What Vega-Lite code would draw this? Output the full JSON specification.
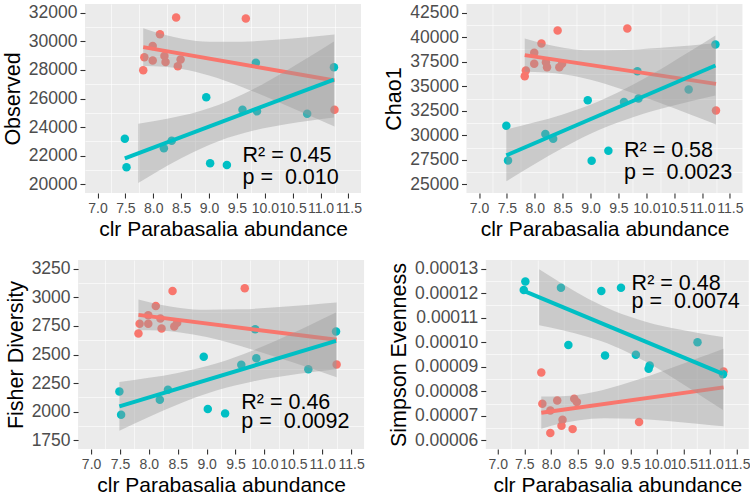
{
  "$schema": "https://vega.github.io/schema/vega-lite/v6.json",
  "background": "white",
  "padding": {"left": 2, "top": 3, "right": 0, "bottom": 0},
  "datasets": {
    "p1": [
      {"x": 7.82, "y": 27979, "g": "r"}, {"x": 7.84, "y": 28889, "g": "r"}, {"x": 7.99, "y": 29663, "g": "r"}, {"x": 7.99, "y": 28657, "g": "r"},
      {"x": 8.12, "y": 30482, "g": "r"}, {"x": 8.20, "y": 28961, "g": "r"}, {"x": 8.22, "y": 28541, "g": "r"}, {"x": 8.41, "y": 31651, "g": "r"},
      {"x": 8.44, "y": 28260, "g": "r"}, {"x": 8.49, "y": 28728, "g": "r"}, {"x": 9.66, "y": 31581, "g": "r"}, {"x": 11.25, "y": 25219, "g": "r"},
      {"x": 7.49, "y": 23184, "g": "t"}, {"x": 7.52, "y": 21196, "g": "t"}, {"x": 8.19, "y": 22529, "g": "t"}, {"x": 8.33, "y": 23044, "g": "t"},
      {"x": 8.95, "y": 26085, "g": "t"}, {"x": 9.02, "y": 21476, "g": "t"}, {"x": 9.32, "y": 21359, "g": "t"}, {"x": 9.60, "y": 25219, "g": "t"},
      {"x": 9.84, "y": 28494, "g": "t"}, {"x": 9.86, "y": 25102, "g": "t"}, {"x": 10.76, "y": 24937, "g": "t"}, {"x": 11.24, "y": 28190, "g": "t"}
    ],
    "b1": [
      {"x": 7.82, "lo": 28268, "hi": 30912, "g": "r"}, {"x": 8.2, "lo": 28214, "hi": 30448, "g": "r"}, {"x": 8.54, "lo": 28047, "hi": 30151, "g": "r"},
      {"x": 9.0, "lo": 27612, "hi": 29958, "g": "r"}, {"x": 9.6, "lo": 26788, "hi": 29964, "g": "r"}, {"x": 10.2, "lo": 25830, "hi": 30104, "g": "r"},
      {"x": 10.8, "lo": 24817, "hi": 30299, "g": "r"}, {"x": 11.25, "lo": 24040, "hi": 30462, "g": "r"},
      {"x": 7.73, "lo": 20104, "hi": 24244, "g": "t"}, {"x": 8.0, "lo": 20731, "hi": 24409, "g": "t"}, {"x": 8.5, "lo": 21821, "hi": 24787, "g": "t"},
      {"x": 9.18, "lo": 23030, "hi": 25572, "g": "t"}, {"x": 9.8, "lo": 23758, "hi": 26664, "g": "t"}, {"x": 10.4, "lo": 24214, "hi": 27968, "g": "t"},
      {"x": 10.8, "lo": 24448, "hi": 28908, "g": "t"}, {"x": 11.24, "lo": 24671, "hi": 29977, "g": "t"}
    ],
    "l1": [
      {"x": 7.82, "y": 29590, "g": "r"}, {"x": 11.25, "y": 27251, "g": "r"},
      {"x": 7.49, "y": 21822, "g": "t"}, {"x": 11.24, "y": 27324, "g": "t"}
    ],
    "t1": [
      {"x": 9.6, "y": 21958, "label": "R² = 0.45"}, {"x": 9.6, "y": 20438, "label": "p = \u00a00.010"}
    ],
    "p2": [
      {"x": 7.82, "y": 36023, "g": "r"}, {"x": 7.84, "y": 36602, "g": "r"}, {"x": 7.99, "y": 38406, "g": "r"}, {"x": 7.99, "y": 37282, "g": "r"},
      {"x": 8.12, "y": 39359, "g": "r"}, {"x": 8.20, "y": 37453, "g": "r"}, {"x": 8.22, "y": 36943, "g": "r"}, {"x": 8.41, "y": 40680, "g": "r"},
      {"x": 8.44, "y": 36943, "g": "r"}, {"x": 8.49, "y": 37282, "g": "r"}, {"x": 9.66, "y": 40890, "g": "r"}, {"x": 11.25, "y": 32517, "g": "r"},
      {"x": 7.49, "y": 30986, "g": "t"}, {"x": 7.52, "y": 27446, "g": "t"}, {"x": 8.19, "y": 30135, "g": "t"}, {"x": 8.33, "y": 29658, "g": "t"},
      {"x": 8.95, "y": 33572, "g": "t"}, {"x": 9.02, "y": 27412, "g": "t"}, {"x": 9.32, "y": 28433, "g": "t"}, {"x": 9.60, "y": 33402, "g": "t"},
      {"x": 9.84, "y": 36534, "g": "t"}, {"x": 9.86, "y": 33743, "g": "t"}, {"x": 10.76, "y": 34662, "g": "t"}, {"x": 11.24, "y": 39257, "g": "t"}
    ],
    "b2": [
      {"x": 7.82, "lo": 36467, "hi": 39867, "g": "r"}, {"x": 8.2, "lo": 36406, "hi": 39280, "g": "r"}, {"x": 8.54, "lo": 36200, "hi": 38906, "g": "r"},
      {"x": 9.0, "lo": 35652, "hi": 38668, "g": "r"}, {"x": 9.6, "lo": 34606, "hi": 38690, "g": "r"}, {"x": 10.2, "lo": 33388, "hi": 38884, "g": "r"},
      {"x": 10.8, "lo": 32100, "hi": 39148, "g": "r"}, {"x": 11.25, "lo": 31111, "hi": 39369, "g": "r"},
      {"x": 7.49, "lo": 25318, "hi": 30594, "g": "t"}, {"x": 8.0, "lo": 27082, "hi": 31320, "g": "t"}, {"x": 8.5, "lo": 28713, "hi": 32131, "g": "t"},
      {"x": 9.18, "lo": 30617, "hi": 33547, "g": "t"}, {"x": 9.8, "lo": 31922, "hi": 35270, "g": "t"}, {"x": 10.4, "lo": 32899, "hi": 37223, "g": "t"},
      {"x": 10.8, "lo": 33469, "hi": 38607, "g": "t"}, {"x": 11.24, "lo": 34055, "hi": 40169, "g": "t"}
    ],
    "l2": [
      {"x": 7.82, "y": 38167, "g": "r"}, {"x": 11.25, "y": 35240, "g": "r"},
      {"x": 7.49, "y": 27956, "g": "t"}, {"x": 11.24, "y": 37112, "g": "t"}
    ],
    "t2": [
      {"x": 9.6, "y": 28434, "label": "R² = 0.58"}, {"x": 9.6, "y": 26147, "label": "p = \u00a00.0023"}
    ],
    "p3": [
      {"x": 7.82, "y": 2683, "g": "r"}, {"x": 7.84, "y": 2769, "g": "r"}, {"x": 7.99, "y": 2843, "g": "r"}, {"x": 7.99, "y": 2769, "g": "r"},
      {"x": 8.12, "y": 2924, "g": "r"}, {"x": 8.20, "y": 2814, "g": "r"}, {"x": 8.22, "y": 2727, "g": "r"}, {"x": 8.41, "y": 3055, "g": "r"},
      {"x": 8.44, "y": 2745, "g": "r"}, {"x": 8.49, "y": 2778, "g": "r"}, {"x": 9.66, "y": 3078, "g": "r"}, {"x": 11.25, "y": 2413, "g": "r"},
      {"x": 7.49, "y": 2178, "g": "t"}, {"x": 7.52, "y": 1975, "g": "t"}, {"x": 8.19, "y": 2105, "g": "t"}, {"x": 8.33, "y": 2192, "g": "t"},
      {"x": 8.95, "y": 2480, "g": "t"}, {"x": 9.02, "y": 2024, "g": "t"}, {"x": 9.32, "y": 1986, "g": "t"}, {"x": 9.60, "y": 2410, "g": "t"},
      {"x": 9.84, "y": 2721, "g": "t"}, {"x": 9.86, "y": 2468, "g": "t"}, {"x": 10.76, "y": 2372, "g": "t"}, {"x": 11.24, "y": 2701, "g": "t"}
    ],
    "b3": [
      {"x": 7.82, "lo": 2712, "hi": 2980, "g": "r"}, {"x": 8.2, "lo": 2709, "hi": 2935, "g": "r"}, {"x": 8.54, "lo": 2693, "hi": 2907, "g": "r"},
      {"x": 9.0, "lo": 2652, "hi": 2890, "g": "r"}, {"x": 9.6, "lo": 2572, "hi": 2894, "g": "r"}, {"x": 10.2, "lo": 2478, "hi": 2912, "g": "r"},
      {"x": 10.8, "lo": 2379, "hi": 2935, "g": "r"}, {"x": 11.25, "lo": 2302, "hi": 2954, "g": "r"},
      {"x": 7.49, "lo": 1834, "hi": 2260, "g": "t"}, {"x": 8.0, "lo": 1954, "hi": 2296, "g": "t"}, {"x": 8.5, "lo": 2063, "hi": 2339, "g": "t"},
      {"x": 9.18, "lo": 2187, "hi": 2423, "g": "t"}, {"x": 9.8, "lo": 2265, "hi": 2535, "g": "t"}, {"x": 10.4, "lo": 2316, "hi": 2666, "g": "t"},
      {"x": 10.8, "lo": 2344, "hi": 2760, "g": "t"}, {"x": 11.24, "lo": 2372, "hi": 2866, "g": "t"}
    ],
    "l3": [
      {"x": 7.82, "y": 2846, "g": "r"}, {"x": 11.25, "y": 2628, "g": "r"},
      {"x": 7.49, "y": 2047, "g": "t"}, {"x": 11.24, "y": 2619, "g": "t"}
    ],
    "t3": [
      {"x": 9.6, "y": 2076, "label": "R² = 0.46"}, {"x": 9.6, "y": 1913, "label": "p = \u00a00.0092"}
    ],
    "p4": [
      {"x": 7.82, "y": 0.0000877, "g": "r"}, {"x": 7.84, "y": 0.0000749, "g": "r"}, {"x": 7.99, "y": 0.0000722, "g": "r"}, {"x": 7.99, "y": 0.0000630, "g": "r"},
      {"x": 8.12, "y": 0.0000763, "g": "r"}, {"x": 8.20, "y": 0.0000660, "g": "r"}, {"x": 8.22, "y": 0.0000684, "g": "r"}, {"x": 8.41, "y": 0.0000646, "g": "r"},
      {"x": 8.44, "y": 0.0000770, "g": "r"}, {"x": 8.49, "y": 0.0000756, "g": "r"}, {"x": 9.66, "y": 0.0000675, "g": "r"}, {"x": 11.25, "y": 0.0000881, "g": "r"},
      {"x": 7.49, "y": 0.0001213, "g": "t"}, {"x": 7.52, "y": 0.0001247, "g": "t"}, {"x": 8.19, "y": 0.0001222, "g": "t"}, {"x": 8.33, "y": 0.0000989, "g": "t"},
      {"x": 8.95, "y": 0.0001209, "g": "t"}, {"x": 9.02, "y": 0.0000946, "g": "t"}, {"x": 9.32, "y": 0.0001222, "g": "t"}, {"x": 9.60, "y": 0.0000949, "g": "t"},
      {"x": 9.84, "y": 0.0000892, "g": "t"}, {"x": 9.86, "y": 0.0000905, "g": "t"}, {"x": 10.76, "y": 0.0001000, "g": "t"}, {"x": 11.24, "y": 0.0000870, "g": "t"}
    ],
    "b4": [
      {"x": 7.82, "lo": 0.00006476, "hi": 0.00007784, "g": "r"}, {"x": 8.2, "lo": 0.00006696, "hi": 0.00007796, "g": "r"}, {"x": 8.53, "lo": 0.00006825, "hi": 0.00007865, "g": "r"},
      {"x": 9.0, "lo": 0.00006904, "hi": 0.00008066, "g": "r"}, {"x": 9.6, "lo": 0.00006878, "hi": 0.0000845, "g": "r"}, {"x": 10.2, "lo": 0.00006786, "hi": 0.000089, "g": "r"},
      {"x": 10.8, "lo": 0.00006667, "hi": 0.00009377, "g": "r"}, {"x": 11.25, "lo": 0.00006572, "hi": 0.00009734, "g": "r"},
      {"x": 7.78, "lo": 0.00010687, "hi": 0.00012971, "g": "t"}, {"x": 8.2, "lo": 0.00010501, "hi": 0.00012399, "g": "t"}, {"x": 8.7, "lo": 0.00010211, "hi": 0.00011769, "g": "t"},
      {"x": 9.18, "lo": 0.0000985, "hi": 0.00011284, "g": "t"}, {"x": 9.8, "lo": 0.0000919, "hi": 0.00010828, "g": "t"}, {"x": 10.4, "lo": 0.0000841, "hi": 0.00010526, "g": "t"},
      {"x": 10.8, "lo": 0.0000785, "hi": 0.00010366, "g": "t"}, {"x": 11.24, "lo": 0.00007244, "hi": 0.00010214, "g": "t"}
    ],
    "l4": [
      {"x": 7.82, "y": 0.0000713, "g": "r"}, {"x": 11.25, "y": 0.0000816, "g": "r"},
      {"x": 7.49, "y": 0.0001209, "g": "t"}, {"x": 11.24, "y": 0.0000871, "g": "t"}
    ],
    "t4": [
      {"x": 9.52, "y": 0.0001239, "label": "R² = 0.48"}, {"x": 9.52, "y": 0.0001162, "label": "p = \u00a00.0074"}
    ]
  },
  "vconcat": [
    {
      "spacing": 21.5,
      "hconcat": [
        {
          "width": 276, "height": 189,
          "resolve": {"axis": {"x": "independent", "y": "independent"}},
          "layer": [
            {"data": {"name": "p1"}, "mark": {"type": "circle", "opacity": 0},
             "encoding": {
               "x": {"field": "x", "type": "quantitative", "scale": {"domain": [6.775, 11.725], "nice": false, "zero": false},
                     "axis": {"orient": "bottom", "values": [7.25, 7.75, 8.25, 8.75, 9.25, 9.75, 10.25, 10.75, 11.25], "grid": true, "gridWidth": 0.6, "labels": false, "ticks": false, "domain": false, "title": null}},
               "y": {"field": "y", "type": "quantitative", "scale": {"domain": [19400, 32600], "nice": false, "zero": false},
                     "axis": {"orient": "left", "values": [21000, 23000, 25000, 27000, 29000, 31000], "grid": true, "gridWidth": 0.6, "labels": false, "ticks": false, "domain": false, "title": null}}
             }},
            {"data": {"name": "p1"}, "mark": {"type": "circle", "size": 72, "opacity": 1},
             "encoding": {
               "x": {"field": "x", "type": "quantitative", "title": "clr Parabasalia abundance",
                     "axis": {"orient": "bottom", "values": [7, 7.5, 8, 8.5, 9, 9.5, 10, 10.5, 11, 11.5], "format": ".1f", "labelOverlap": false, "labelFlush": false, "labelBound": false}},
               "y": {"field": "y", "type": "quantitative", "title": "Observed",
                     "axis": {"orient": "left", "values": [20000, 22000, 24000, 26000, 28000, 30000, 32000], "format": "d", "labelOverlap": false}},
               "color": {"field": "g", "type": "nominal", "scale": {"domain": ["r", "t"], "range": ["#F8766D", "#00BFC4"]}, "legend": null}
             }},
            {"data": {"name": "b1"}, "transform": [{"filter": "datum.g === 'r'"}], "mark": {"type": "area", "color": "#999999", "opacity": 0.4, "interpolate": "monotone"},
             "encoding": {"x": {"field": "x", "type": "quantitative", "axis": null}, "y": {"field": "lo", "type": "quantitative", "axis": null}, "y2": {"field": "hi"}}},
            {"data": {"name": "l1"}, "transform": [{"filter": "datum.g === 'r'"}], "mark": {"type": "line", "color": "#F8766D", "strokeWidth": 4},
             "encoding": {"x": {"field": "x", "type": "quantitative", "axis": null}, "y": {"field": "y", "type": "quantitative", "axis": null}}},
            {"data": {"name": "b1"}, "transform": [{"filter": "datum.g === 't'"}], "mark": {"type": "area", "color": "#999999", "opacity": 0.4, "interpolate": "monotone"},
             "encoding": {"x": {"field": "x", "type": "quantitative", "axis": null}, "y": {"field": "lo", "type": "quantitative", "axis": null}, "y2": {"field": "hi"}}},
            {"data": {"name": "l1"}, "transform": [{"filter": "datum.g === 't'"}], "mark": {"type": "line", "color": "#00BFC4", "strokeWidth": 4},
             "encoding": {"x": {"field": "x", "type": "quantitative", "axis": null}, "y": {"field": "y", "type": "quantitative", "axis": null}}},
            {"data": {"name": "t1"}, "mark": {"type": "text", "align": "left", "baseline": "middle", "fontSize": 21.5, "font": "Liberation Sans", "color": "#000000"},
             "encoding": {"x": {"field": "x", "type": "quantitative", "axis": null}, "y": {"field": "y", "type": "quantitative", "axis": null}, "text": {"field": "label"}}}
          ]
        },
        {
          "width": 276, "height": 189,
          "resolve": {"axis": {"x": "independent", "y": "independent"}},
          "layer": [
            {"data": {"name": "p2"}, "mark": {"type": "circle", "opacity": 0},
             "encoding": {
               "x": {"field": "x", "type": "quantitative", "scale": {"domain": [6.775, 11.725], "nice": false, "zero": false},
                     "axis": {"orient": "bottom", "values": [7.25, 7.75, 8.25, 8.75, 9.25, 9.75, 10.25, 10.75, 11.25], "grid": true, "gridWidth": 0.6, "labels": false, "ticks": false, "domain": false, "title": null}},
               "y": {"field": "y", "type": "quantitative", "scale": {"domain": [24125, 43375], "nice": false, "zero": false},
                     "axis": {"orient": "left", "values": [26250, 28750, 31250, 33750, 36250, 38750, 41250], "grid": true, "gridWidth": 0.6, "labels": false, "ticks": false, "domain": false, "title": null}}
             }},
            {"data": {"name": "p2"}, "mark": {"type": "circle", "size": 72, "opacity": 1},
             "encoding": {
               "x": {"field": "x", "type": "quantitative", "title": "clr Parabasalia abundance",
                     "axis": {"orient": "bottom", "values": [7, 7.5, 8, 8.5, 9, 9.5, 10, 10.5, 11, 11.5], "format": ".1f", "labelOverlap": false, "labelFlush": false, "labelBound": false}},
               "y": {"field": "y", "type": "quantitative", "title": "Chao1",
                     "axis": {"orient": "left", "values": [25000, 27500, 30000, 32500, 35000, 37500, 40000, 42500], "format": "d", "labelOverlap": false}},
               "color": {"field": "g", "type": "nominal", "scale": {"domain": ["r", "t"], "range": ["#F8766D", "#00BFC4"]}, "legend": null}
             }},
            {"data": {"name": "b2"}, "transform": [{"filter": "datum.g === 'r'"}], "mark": {"type": "area", "color": "#999999", "opacity": 0.4, "interpolate": "monotone"},
             "encoding": {"x": {"field": "x", "type": "quantitative", "axis": null}, "y": {"field": "lo", "type": "quantitative", "axis": null}, "y2": {"field": "hi"}}},
            {"data": {"name": "l2"}, "transform": [{"filter": "datum.g === 'r'"}], "mark": {"type": "line", "color": "#F8766D", "strokeWidth": 4},
             "encoding": {"x": {"field": "x", "type": "quantitative", "axis": null}, "y": {"field": "y", "type": "quantitative", "axis": null}}},
            {"data": {"name": "b2"}, "transform": [{"filter": "datum.g === 't'"}], "mark": {"type": "area", "color": "#999999", "opacity": 0.4, "interpolate": "monotone"},
             "encoding": {"x": {"field": "x", "type": "quantitative", "axis": null}, "y": {"field": "lo", "type": "quantitative", "axis": null}, "y2": {"field": "hi"}}},
            {"data": {"name": "l2"}, "transform": [{"filter": "datum.g === 't'"}], "mark": {"type": "line", "color": "#00BFC4", "strokeWidth": 4},
             "encoding": {"x": {"field": "x", "type": "quantitative", "axis": null}, "y": {"field": "y", "type": "quantitative", "axis": null}}},
            {"data": {"name": "t2"}, "mark": {"type": "text", "align": "left", "baseline": "middle", "fontSize": 21.5, "font": "Liberation Sans", "color": "#000000"},
             "encoding": {"x": {"field": "x", "type": "quantitative", "axis": null}, "y": {"field": "y", "type": "quantitative", "axis": null}, "text": {"field": "label"}}}
          ]
        }
      ]
    },
    {
      "spacing": 22.7,
      "hconcat": [
        {
          "width": 286, "height": 189,
          "resolve": {"axis": {"x": "independent", "y": "independent"}},
          "layer": [
            {"data": {"name": "p3"}, "mark": {"type": "circle", "opacity": 0},
             "encoding": {
               "x": {"field": "x", "type": "quantitative", "scale": {"domain": [6.775, 11.725], "nice": false, "zero": false},
                     "axis": {"orient": "bottom", "values": [7.25, 7.75, 8.25, 8.75, 9.25, 9.75, 10.25, 10.75, 11.25], "grid": true, "gridWidth": 0.6, "labels": false, "ticks": false, "domain": false, "title": null}},
               "y": {"field": "y", "type": "quantitative", "scale": {"domain": [1675, 3325], "nice": false, "zero": false},
                     "axis": {"orient": "left", "values": [1875, 2125, 2375, 2625, 2875, 3125], "grid": true, "gridWidth": 0.6, "labels": false, "ticks": false, "domain": false, "title": null}}
             }},
            {"data": {"name": "p3"}, "mark": {"type": "circle", "size": 72, "opacity": 1},
             "encoding": {
               "x": {"field": "x", "type": "quantitative", "title": "clr Parabasalia abundance",
                     "axis": {"orient": "bottom", "values": [7, 7.5, 8, 8.5, 9, 9.5, 10, 10.5, 11, 11.5], "format": ".1f", "labelOverlap": false, "labelFlush": false, "labelBound": false}},
               "y": {"field": "y", "type": "quantitative", "title": "Fisher Diversity",
                     "axis": {"orient": "left", "values": [1750, 2000, 2250, 2500, 2750, 3000, 3250], "format": "d", "labelOverlap": false}},
               "color": {"field": "g", "type": "nominal", "scale": {"domain": ["r", "t"], "range": ["#F8766D", "#00BFC4"]}, "legend": null}
             }},
            {"data": {"name": "b3"}, "transform": [{"filter": "datum.g === 'r'"}], "mark": {"type": "area", "color": "#999999", "opacity": 0.4, "interpolate": "monotone"},
             "encoding": {"x": {"field": "x", "type": "quantitative", "axis": null}, "y": {"field": "lo", "type": "quantitative", "axis": null}, "y2": {"field": "hi"}}},
            {"data": {"name": "l3"}, "transform": [{"filter": "datum.g === 'r'"}], "mark": {"type": "line", "color": "#F8766D", "strokeWidth": 4},
             "encoding": {"x": {"field": "x", "type": "quantitative", "axis": null}, "y": {"field": "y", "type": "quantitative", "axis": null}}},
            {"data": {"name": "b3"}, "transform": [{"filter": "datum.g === 't'"}], "mark": {"type": "area", "color": "#999999", "opacity": 0.4, "interpolate": "monotone"},
             "encoding": {"x": {"field": "x", "type": "quantitative", "axis": null}, "y": {"field": "lo", "type": "quantitative", "axis": null}, "y2": {"field": "hi"}}},
            {"data": {"name": "l3"}, "transform": [{"filter": "datum.g === 't'"}], "mark": {"type": "line", "color": "#00BFC4", "strokeWidth": 4},
             "encoding": {"x": {"field": "x", "type": "quantitative", "axis": null}, "y": {"field": "y", "type": "quantitative", "axis": null}}},
            {"data": {"name": "t3"}, "mark": {"type": "text", "align": "left", "baseline": "middle", "fontSize": 21.5, "font": "Liberation Sans", "color": "#000000"},
             "encoding": {"x": {"field": "x", "type": "quantitative", "axis": null}, "y": {"field": "y", "type": "quantitative", "axis": null}, "text": {"field": "label"}}}
          ]
        },
        {
          "width": 263, "height": 189,
          "resolve": {"axis": {"x": "independent", "y": "independent"}},
          "layer": [
            {"data": {"name": "p4"}, "mark": {"type": "circle", "opacity": 0},
             "encoding": {
               "x": {"field": "x", "type": "quantitative", "scale": {"domain": [6.775, 11.725], "nice": false, "zero": false},
                     "axis": {"orient": "bottom", "values": [7.25, 7.75, 8.25, 8.75, 9.25, 9.75, 10.25, 10.75, 11.25], "grid": true, "gridWidth": 0.6, "labels": false, "ticks": false, "domain": false, "title": null}},
               "y": {"field": "y", "type": "quantitative", "scale": {"domain": [0.0000565, 0.0001335], "nice": false, "zero": false},
                     "axis": {"orient": "left", "values": [0.000065, 0.000075, 0.000085, 0.000095, 0.000105, 0.000115, 0.000125], "grid": true, "gridWidth": 0.6, "labels": false, "ticks": false, "domain": false, "title": null}}
             }},
            {"data": {"name": "p4"}, "mark": {"type": "circle", "size": 72, "opacity": 1},
             "encoding": {
               "x": {"field": "x", "type": "quantitative", "title": "clr Parabasalia abundance",
                     "axis": {"orient": "bottom", "values": [7, 7.5, 8, 8.5, 9, 9.5, 10, 10.5, 11, 11.5], "format": ".1f", "labelOverlap": false, "labelFlush": false, "labelBound": false}},
               "y": {"field": "y", "type": "quantitative", "title": "Simpson Evenness",
                     "axis": {"orient": "left", "values": [0.00006, 0.00007, 0.00008, 0.00009, 0.0001, 0.00011, 0.00012, 0.00013], "format": ".5f", "labelOverlap": false}},
               "color": {"field": "g", "type": "nominal", "scale": {"domain": ["r", "t"], "range": ["#F8766D", "#00BFC4"]}, "legend": null}
             }},
            {"data": {"name": "b4"}, "transform": [{"filter": "datum.g === 'r'"}], "mark": {"type": "area", "color": "#999999", "opacity": 0.4, "interpolate": "monotone"},
             "encoding": {"x": {"field": "x", "type": "quantitative", "axis": null}, "y": {"field": "lo", "type": "quantitative", "axis": null}, "y2": {"field": "hi"}}},
            {"data": {"name": "l4"}, "transform": [{"filter": "datum.g === 'r'"}], "mark": {"type": "line", "color": "#F8766D", "strokeWidth": 4},
             "encoding": {"x": {"field": "x", "type": "quantitative", "axis": null}, "y": {"field": "y", "type": "quantitative", "axis": null}}},
            {"data": {"name": "b4"}, "transform": [{"filter": "datum.g === 't'"}], "mark": {"type": "area", "color": "#999999", "opacity": 0.4, "interpolate": "monotone"},
             "encoding": {"x": {"field": "x", "type": "quantitative", "axis": null}, "y": {"field": "lo", "type": "quantitative", "axis": null}, "y2": {"field": "hi"}}},
            {"data": {"name": "l4"}, "transform": [{"filter": "datum.g === 't'"}], "mark": {"type": "line", "color": "#00BFC4", "strokeWidth": 4},
             "encoding": {"x": {"field": "x", "type": "quantitative", "axis": null}, "y": {"field": "y", "type": "quantitative", "axis": null}}},
            {"data": {"name": "t4"}, "mark": {"type": "text", "align": "left", "baseline": "middle", "fontSize": 21.5, "font": "Liberation Sans", "color": "#000000"},
             "encoding": {"x": {"field": "x", "type": "quantitative", "axis": null}, "y": {"field": "y", "type": "quantitative", "axis": null}, "text": {"field": "label"}}}
          ]
        }
      ]
    }
  ],
  "spacing": 20,
  "center": true,
  "config": {
    "view": {"fill": "#EBEBEB", "stroke": null},
    "axis": {"domain": false, "grid": true, "gridColor": "#FFFFFF", "gridWidth": 1.2, "tickColor": "#333333", "tickSize": 5, "tickWidth": 1.1, "labelOverlap": false,
             "labelColor": "#4D4D4D", "labelFont": "Liberation Sans", "titleFont": "Liberation Sans", "titleFontWeight": "normal", "titleColor": "#000000"},
    "axisX": {"labelFontSize": 14, "titleFontSize": 21, "labelPadding": 3, "titlePadding": 3},
    "axisY": {"labelFontSize": 17.5, "titleFontSize": 21.5, "labelPadding": 3, "titlePadding": 4}
  }
}
